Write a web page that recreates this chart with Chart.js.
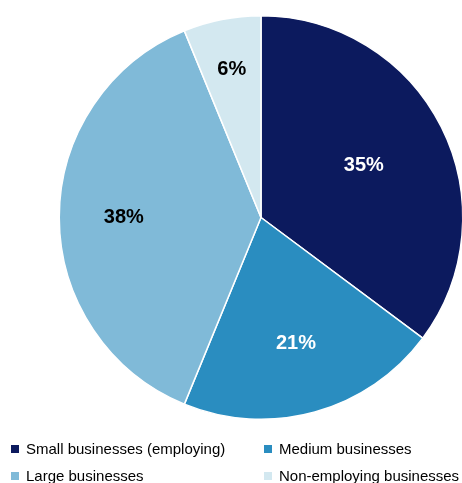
<!DOCTYPE html>
<html>
<head>
<meta charset="utf-8">
<script src="https://cdn.jsdelivr.net/npm/chart.js@4.4.1/dist/chart.umd.min.js"></script>
<style>
    html, body { margin: 0; padding: 0; background: #fff; overflow: hidden; }
    body { width: 462px; height: 483px; position: relative; font-family: "Liberation Sans", Arial, sans-serif; }
    #wrap { position: absolute; left: 0; top: 0; width: 522px; height: 483px; }
    .legend { position: absolute; left: 0; top: 438px; width: 462px; }
    .item { position: absolute; font-size: 15px; color: #000; white-space: nowrap; line-height: 18px; }
    .item i { position: absolute; left: -15px; top: 5px; width: 8px; height: 8px; }
</style>
</head>
<body>
<div id="wrap"><canvas id="pie" width="522" height="483"></canvas></div>
<div class="legend" id="legend"></div>
<script>
// shares of total
const categories = ['Small businesses (employing)', 'Medium businesses', 'Large businesses', 'Non-employing businesses'];
const shares = [35.2, 21.0, 37.6, 6.2];
const sliceColors = ['#0c1a5e', '#2a8dc0', '#80bad8', '#d3e8f0'];
const labelColors = ['#ffffff', '#ffffff', '#000000', '#000000'];

// how far out along the slice's middle each % label sits (fraction of radius)
const labelDepth = [0.57, 0.65, 0.68, 0.75];

const sliceLabels = {
    id: 'sliceLabels',
    afterDatasetsDraw(chart) {
        const ctx = chart.ctx;
        const meta = chart.getDatasetMeta(0);
        ctx.save();
        ctx.font = 'bold 20px "Liberation Sans", Arial, sans-serif';
        ctx.textAlign = 'center';
        ctx.textBaseline = 'middle';
        meta.data.forEach((arc, i) => {
            const p = arc.getProps(['x', 'y', 'startAngle', 'endAngle', 'outerRadius'], true);
            const mid = (p.startAngle + p.endAngle) / 2;
            const r = p.outerRadius * labelDepth[i];
            ctx.fillStyle = labelColors[i];
            ctx.fillText(Math.round(shares[i]) + '%', p.x + Math.cos(mid) * r, p.y + Math.sin(mid) * r);
        });
        ctx.restore();
    }
};

new Chart(document.getElementById('pie'), {
    type: 'pie',
    data: {
        labels: categories,
        datasets: [{
            data: shares,
            backgroundColor: sliceColors,
            borderColor: '#ffffff',
            borderWidth: 1.5
        }]
    },
    options: {
        responsive: false,
        animation: false,
        layout: { padding: { top: 15, bottom: 63, left: 58, right: 58 } },
        plugins: { legend: { display: false }, tooltip: { enabled: false } }
    },
    plugins: [sliceLabels]
});

// legend: two columns, two rows
const legend = document.getElementById('legend');
const colX = [26, 279];
const rowY = [2, 29];
categories.forEach((name, i) => {
    const d = document.createElement('div');
    d.className = 'item';
    d.style.left = colX[i % 2] + 'px';
    d.style.top = rowY[Math.floor(i / 2)] + 'px';
    d.innerHTML = '<i style="background:' + sliceColors[i] + '"></i>' + name;
    legend.appendChild(d);
});
</script>
</body>
</html>
